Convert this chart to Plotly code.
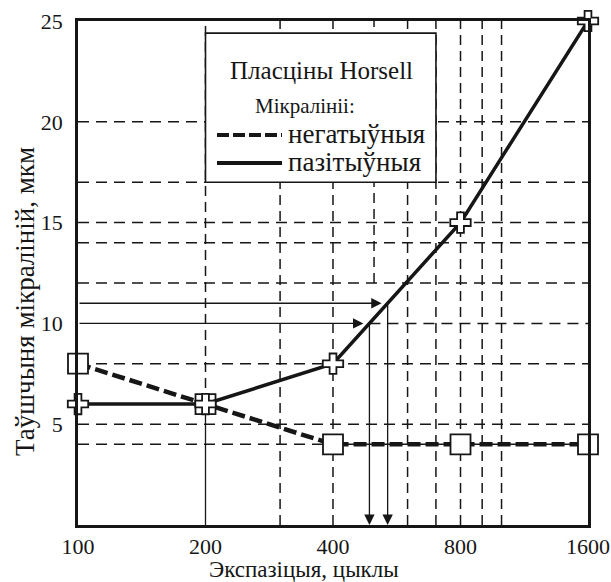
import numpy as np
import plotly.graph_objects as go

# ---- data ----
cycles = [100, 200, 400, 800, 1600]
negative = [8, 6, 4, 4, 4]          # негатыўныя мікраліній (dashed, squares)
positive = [6, 6, 8, 15, 25]        # пазітыўныя мікраліній (solid, crosses)
x_ticks = [100, 200, 400, 800, 1600]
y_ticks = [5, 10, 15, 20, 25]
h_grid = [4, 5, 8, 12, 14, 15, 17, 20]          # full-width dashed lines
v_grid = [300, 400, 600, 700, 800, 900, 1000]   # full-height dashed lines
arrow_levels = [10, 11]                          # read-off thickness levels
legend_box_x = [200, 700]
legend_box_y = [17, 24.4]

FONT = "Liberation Serif"
INK = "#161616"

# plot-area geometry in pixels (for paper-coordinate annotations)
W, H = 611, 582
L, R, T, B = 78, 23, 21, 57
PW, PH = W - L - R, H - T - B


def px(xp):
    return (xp - L) / PW


def py(yp):
    return (H - B - yp) / PH


def cross_x(level):
    """x (cycles) where the positive curve reaches a given thickness (log interpolation)."""
    return 10 ** np.interp(level, positive[1:], np.log10(cycles[1:]))


fig = go.Figure()

# ---- dashed grid ----
gx, gy = [], []
for v in h_grid:
    gx += [cycles[0], cycles[-1], None]
    gy += [v, v, None]
# level 10 dashed only to the right of the curve
gx += [cross_x(arrow_levels[0]), cycles[-1], None]
gy += [arrow_levels[0], arrow_levels[0], None]
fig.add_trace(go.Scatter(x=gx, y=gy, mode="lines", hoverinfo="skip", showlegend=False,
                         line=dict(color=INK, width=1.5, dash="11px,7px")))

vx, vy = [], []
for v in v_grid:
    vx += [v, v, None]
    vy += [0, 25, None]
# 200: dashed above the point
vx += [cycles[1], cycles[1], None]
vy += [negative[1], 25, None]
# ~500: dashed from the top down to level 12
vx += [500, 500, None]
vy += [12, 25, None]
fig.add_trace(go.Scatter(x=vx, y=vy, mode="lines", hoverinfo="skip", showlegend=False,
                         line=dict(color=INK, width=1.5, dash="10px,6px")))

# solid drop line under the 200 point
fig.add_trace(go.Scatter(x=[cycles[1], cycles[1]], y=[0, negative[1]], mode="lines",
                         hoverinfo="skip", showlegend=False,
                         line=dict(color=INK, width=1.3)))

# ---- legend box (white, covers grid) ----
fig.add_trace(go.Scatter(
    x=[legend_box_x[0], legend_box_x[1], legend_box_x[1], legend_box_x[0], legend_box_x[0]],
    y=[legend_box_y[0], legend_box_y[0], legend_box_y[1], legend_box_y[1], legend_box_y[0]],
    mode="lines", fill="toself", fillcolor="white", hoverinfo="skip", showlegend=False,
    line=dict(color=INK, width=1.6)))

# ---- data series ----
fig.add_trace(go.Scatter(
    x=cycles, y=negative, mode="lines+markers", name="негатыўныя", showlegend=False,
    cliponaxis=False,
    line=dict(color=INK, width=4.5, dash="13px,5px"),
    marker=dict(symbol="square", size=20, color="white", line=dict(color=INK, width=1.8))))
fig.add_trace(go.Scatter(
    x=cycles, y=positive, mode="lines+markers", name="пазітыўныя", showlegend=False,
    cliponaxis=False,
    line=dict(color=INK, width=3.5),
    marker=dict(symbol="cross", size=17, color="white", line=dict(color=INK, width=1.8))))

annotations = []
# ---- read-off arrows ----
for lvl in arrow_levels:
    xc = np.log10(cross_x(lvl))
    # horizontal arrow from y-axis to the curve
    annotations.append(dict(x=xc, y=lvl, ax=np.log10(cycles[0]), ay=lvl, xref="x", yref="y",
                            axref="x", ayref="y", text="", showarrow=True, arrowhead=2,
                            arrowsize=1.6, arrowwidth=1.3, arrowcolor=INK, standoff=6))
    # vertical arrow from the curve to the x-axis
    annotations.append(dict(x=xc, y=0, ax=xc, ay=lvl, xref="x", yref="y",
                            axref="x", ayref="y", text="", showarrow=True, arrowhead=2,
                            arrowsize=1.6, arrowwidth=1.3, arrowcolor=INK, standoff=0))

# ---- legend texts ----
annotations.append(dict(x=px(321), y=py(70), xref="paper", yref="paper", text="Пласціны Horsell",
                        showarrow=False, font=dict(family=FONT, size=25, color=INK),
                        xanchor="center", yanchor="middle"))
annotations.append(dict(x=px(305), y=py(106), xref="paper", yref="paper", text="Мікралініі:",
                        showarrow=False, font=dict(family=FONT, size=21, color=INK),
                        xanchor="center", yanchor="middle"))
annotations.append(dict(x=px(286), y=py(134), xref="paper", yref="paper", text="негатыўныя",
                        showarrow=False, font=dict(family=FONT, size=27, color=INK),
                        xanchor="left", yanchor="middle"))
annotations.append(dict(x=px(286), y=py(162), xref="paper", yref="paper", text="пазітыўныя",
                        showarrow=False, font=dict(family=FONT, size=27, color=INK),
                        xanchor="left", yanchor="middle"))

# ---- axis titles ----
annotations.append(dict(x=px(304), y=py(569), xref="paper", yref="paper", text="Экспазіцыя, цыклы",
                        showarrow=False, font=dict(family=FONT, size=23, color=INK),
                        xanchor="center", yanchor="middle"))
annotations.append(dict(x=px(25), y=py(302), xref="paper", yref="paper",
                        text="Таўшчыня мікраліній, мкм", textangle=-90,
                        showarrow=False, font=dict(family=FONT, size=27, color=INK),
                        xanchor="center", yanchor="middle"))

shapes = [
    dict(type="line", xref="paper", yref="paper", x0=px(217), x1=px(282), y0=py(135), y1=py(135),
         line=dict(color=INK, width=4, dash="12px,4px")),
    dict(type="line", xref="paper", yref="paper", x0=px(217), x1=px(282), y0=py(163), y1=py(163),
         line=dict(color=INK, width=4)),
]

fig.update_layout(
    width=W, height=H,
    margin=dict(l=L, r=R, t=T, b=B, autoexpand=False),
    paper_bgcolor="white", plot_bgcolor="white",
    font=dict(family=FONT, size=22, color=INK),
    showlegend=False,
    annotations=annotations,
    shapes=shapes,
    xaxis=dict(type="log", range=[np.log10(cycles[0]), np.log10(cycles[-1])],
               tickvals=x_ticks, ticktext=[str(t) for t in x_ticks],
               showgrid=False, zeroline=False, ticks="", automargin=False,
               showline=True, linecolor=INK, linewidth=2.5, mirror=True,
               ticklabelstandoff=0, tickfont=dict(family=FONT, size=22, color=INK)),
    yaxis=dict(range=[0, 25], tickvals=y_ticks, ticktext=[str(t) for t in y_ticks],
               showgrid=False, zeroline=False, ticks="", automargin=False,
               showline=True, linecolor=INK, linewidth=2.5, mirror=True,
               ticklabelstandoff=8, tickfont=dict(family=FONT, size=22, color=INK)),
)

fig.write_html("out.html", config={"displayModeBar": False},
               post_script="document.body.style.margin='0';document.body.style.overflow='hidden';")
